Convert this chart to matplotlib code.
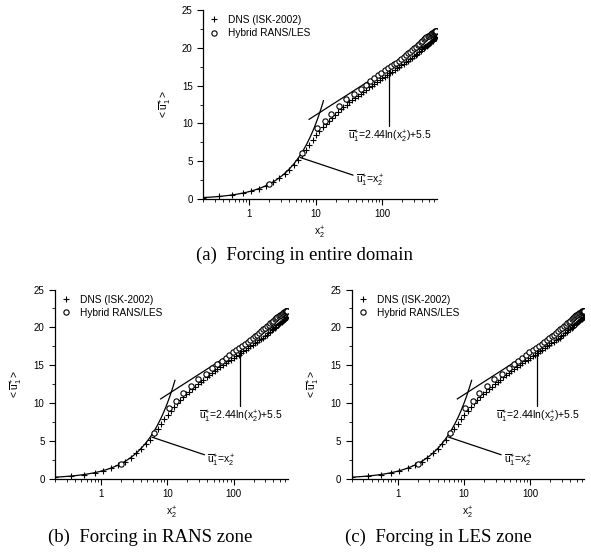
import numpy as np
import matplotlib
matplotlib.use('Agg')
import matplotlib.pyplot as plt

plt.rcParams['font.family'] = ['Liberation Sans', 'DejaVu Sans']
plt.rcParams['mathtext.fontset'] = 'custom'
plt.rcParams['mathtext.rm'] = 'Liberation Sans'
plt.rcParams['mathtext.it'] = 'Liberation Sans'
plt.rcParams['mathtext.bf'] = 'Liberation Sans'

# DNS (ISK-2002) mean velocity profile
dns_x = [0.2, 0.35, 0.55, 0.8, 1.05, 1.4, 1.8, 2.3, 2.8, 3.4, 4.0, 4.7, 5.4, 6.2, 7.1,
         8.0, 9.0, 10.1, 11.3, 12.6, 14, 15.6, 17.3, 19.2, 21.3, 23.6, 26, 29, 32, 35,
         39, 43, 47, 52, 57, 63, 69, 76, 83, 91, 100, 109, 119, 130, 141, 153, 166, 180,
         194, 209, 225, 242, 259, 277, 296, 316, 336, 357, 378, 400, 422, 444, 466, 488,
         510, 530, 550, 570, 588, 605, 620, 633, 643, 650]
dns_u = [0.2, 0.35, 0.55, 0.8, 1.05, 1.39, 1.78, 2.27, 2.76, 3.34, 3.9, 4.55, 5.15, 5.85, 6.55,
         7.2, 7.85, 8.45, 9.0, 9.5, 9.95, 10.38, 10.78, 11.15, 11.5, 11.85, 12.15, 12.5, 12.8, 13.08,
         13.4, 13.68, 13.94, 14.22, 14.48, 14.76, 15.0, 15.26, 15.49, 15.73, 15.97, 16.19, 16.41, 16.64, 16.85, 17.06, 17.27, 17.48,
         17.68, 17.88, 18.08, 18.28, 18.47, 18.66, 18.86, 19.05, 19.24, 19.42, 19.6, 19.78, 19.95, 20.11, 20.27, 20.42,
         20.56, 20.69, 20.82, 20.94, 21.05, 21.15, 21.24, 21.31, 21.36, 21.4]

# Hybrid RANS/LES profile
hyb_x = [2.0, 6.2, 10.5, 13.5, 17, 22.5, 28.5, 38, 48, 57, 66, 76, 86, 97, 109, 121, 134,
         148, 163, 178, 194, 211, 228, 246, 264, 283, 302, 321, 341, 361, 381, 401, 421,
         441, 460, 479, 498, 516, 534, 551, 567, 582, 596, 609, 620, 630, 638, 644, 648]
hyb_u = [2.0, 6.1, 9.4, 10.3, 11.3, 12.3, 13.2, 13.9, 14.6, 15.1, 15.6, 16.0, 16.35, 16.7, 17.0, 17.3, 17.55,
         17.8, 18.05, 18.3, 18.55, 18.8, 19.05, 19.3, 19.5, 19.75, 19.95, 20.15, 20.35, 20.55, 20.75, 20.9, 21.1,
         21.25, 21.4, 21.5, 21.6, 21.7, 21.8, 21.88, 21.95, 22.0, 22.05, 22.1, 22.13, 22.16, 22.18, 22.2, 22.2]

captions = ['(a)  Forcing in entire domain', '(b)  Forcing in RANS zone', '(c)  Forcing in LES zone']
boxes = [[0.3435, 0.640, 0.3955, 0.342],
         [0.093, 0.1344, 0.394, 0.342],
         [0.595, 0.1344, 0.394, 0.342]]
cap_pos = [(305 / 591, 0.539), (150 / 591, 0.029), (438 / 591, 0.029)]

fig = plt.figure(figsize=(5.91, 5.53), dpi=100)

for box, cap, cp in zip(boxes, captions, cap_pos):
    ax = fig.add_axes(box)
    # viscous sublayer and log law
    xl = np.logspace(np.log10(0.2), np.log10(13), 100)
    ax.plot(xl, xl, color='black', lw=0.9)
    xg = np.logspace(np.log10(7.9), np.log10(650), 100)
    ax.plot(xg, 2.44 * np.log(xg) + 5.5, color='black', lw=0.9)
    ax.plot(dns_x, dns_u, linestyle='none', marker='+', ms=4.2, mew=0.8, color='black',
            label='DNS (ISK-2002)')
    ax.plot(hyb_x, hyb_u, linestyle='none', marker='o', ms=3.8, mew=0.8, mfc='white',
            mec='black', label='Hybrid RANS/LES')

    ax.annotate(r'$\overline{u}^{+}_{1}$=2.44ln($x^{+}_{2}$)+5.5',
                xy=(125, 17.0), xytext=(30, 8.2), fontsize=7.5, va='center',
                arrowprops=dict(arrowstyle='-', lw=0.9, color='black',
                                connectionstyle='angle,angleA=0,angleB=90,rad=0',
                                shrinkA=0, shrinkB=0, relpos=(0.62, 1.0)))
    ax.annotate(r'$\overline{u}^{+}_{1}$=$x^{+}_{2}$',
                xy=(5.8, 5.5), xytext=(40, 2.4), fontsize=7.5, va='center',
                arrowprops=dict(arrowstyle='-', lw=0.9, color='black',
                                shrinkA=0, shrinkB=0, relpos=(0.0, 0.8)))

    ax.set_xscale('log')
    ax.set_xlim(0.2, 660)
    ax.set_ylim(0, 25)
    ax.set_yticks([0, 5, 10, 15, 20, 25])
    ax.set_yticks(np.arange(0, 25, 2.5), minor=True)
    ax.set_xticks([1, 10, 100])
    ax.set_xticklabels(['1', '10', '100'])
    ax.tick_params(which='major', direction='out', length=4, width=0.8, labelsize=7)
    ax.tick_params(which='minor', direction='out', length=2, width=0.6)
    for s in ['top', 'right']:
        ax.spines[s].set_visible(False)
    for s in ['left', 'bottom']:
        ax.spines[s].set_linewidth(0.9)
    ax.set_xlabel(r'$x^{+}_{2}$', fontsize=7.5, labelpad=4)
    ax.set_ylabel(r'$<\overline{u}^{+}_{1}>$', fontsize=7.5, labelpad=6)
    ax.legend(loc='upper left', frameon=False, fontsize=7.3, handlelength=1.2,
              handletextpad=0.8, borderaxespad=0.1, labelspacing=0.3)
    fig.text(cp[0], cp[1], cap, ha='center', va='center',
             fontsize=13.5, family='Liberation Serif')

fig.savefig('out.png', dpi=100)
